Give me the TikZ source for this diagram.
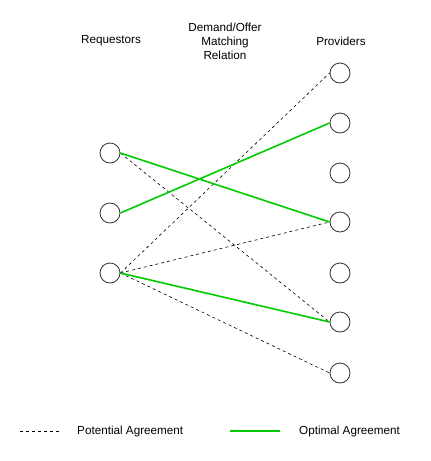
\documentclass[tikz,border=0pt]{standalone}
\usepackage{fontspec}
\setmainfont{Liberation Sans}
\usetikzlibrary{arrows}
\definecolor{agreegreen}{RGB}{0,204,0}

\begin{document}
\begin{tikzpicture}[x=1pt,y=-1pt,
  party/.style={circle,draw=black!80,line width=0.8pt,minimum size=20pt,inner sep=0pt},
  potential/.style={draw=black,line width=0.6pt,dash pattern=on 3pt off 3pt},
  optimal/.style={draw=agreegreen,line width=1.6pt},
  heading/.style={font=\fontsize{11.7}{14}\selectfont,align=center,inner sep=0pt}]
\useasboundingbox (0,0) rectangle (431,461);

\node[heading] (requestors) at (111,41) {Requestors};
\node[heading] (relation) at (225,41) {Demand/Offer\\Matching\\Relation};
\node[heading] (providers) at (341,41) {Providers};

\node[party] (req1) at (110,153) {};
\node[party] (req2) at (110,213) {};
\node[party] (req3) at (110,273) {};

\node[party] (prov1) at (340,73) {};
\node[party] (prov2) at (340,123) {};
\node[party] (prov3) at (340,173) {};
\node[party] (prov4) at (340,222) {};
\node[party] (prov5) at (340,273) {};
\node[party] (prov6) at (340,322) {};
\node[party] (prov7) at (340,373) {};

\draw[potential] (req1.east) -- (prov6.west);
\draw[potential] (req3.east) -- (prov1.west);
\draw[potential] (req3.east) -- (prov4.west);
\draw[potential] (req3.east) -- (prov7.west);

\draw[optimal] (req1.east) -- (prov4.west);
\draw[optimal] (req2.east) -- (prov2.west);
\draw[optimal] (req3.east) -- (prov6.west);

\coordinate (potStart) at (20,431);
\coordinate (potEnd) at (60,431);
\draw[potential] (potStart) -- (potEnd);
\node[heading,anchor=west] (potText) at (77,431) {Potential Agreement};

\coordinate (optStart) at (230,431);
\coordinate (optEnd) at (280,431);
\draw[optimal] (optStart) -- (optEnd);
\node[heading,anchor=west] (optText) at (299,431) {Optimal Agreement};

\end{tikzpicture}
\end{document}
